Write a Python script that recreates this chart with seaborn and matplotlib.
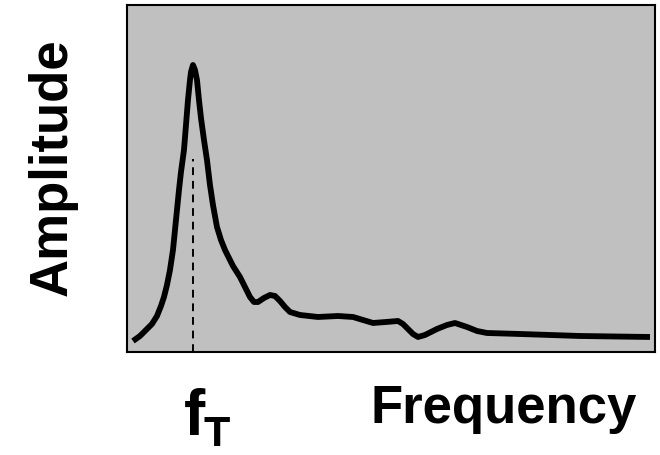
import pandas as pd
import seaborn as sns
import matplotlib.pyplot as plt

# curve: frequency (arbitrary units), amplitude (arbitrary units)
frequency = [6, 13, 18, 25, 30, 34, 37, 40, 43, 46, 48, 50, 52, 54, 57, 59, 61, 63,
             64, 66, 68, 70, 72, 74, 77, 80, 83, 86, 90, 94, 98, 106, 113, 118,
             123, 127, 131, 137, 143, 148, 153, 158, 163, 173, 191, 211, 226, 236,
             246, 259, 271, 276, 281, 286, 291, 298, 310, 320, 328, 334, 340, 350,
             360, 393, 453, 523]
amplitude = [11, 16, 21, 28, 36, 46, 55, 67, 82, 102, 122, 142, 162, 180, 202, 227,
             252, 272, 280, 287, 282, 272, 252, 234, 212, 192, 167, 147, 125, 112,
             102, 86, 75, 65, 55, 50, 50, 54, 57, 56, 51, 45, 40, 37, 35, 36, 35,
             32, 29, 30, 31, 28, 23, 18, 15, 17, 23, 27, 29, 27, 25, 21, 19, 18,
             16, 15]
f_T = 66
f_T_amp = 193

df = pd.DataFrame({"frequency": frequency, "amplitude": amplitude})

sns.set_style("white")
plt.rcParams["font.family"] = ["Liberation Sans", "DejaVu Sans"]

fig, ax = plt.subplots(figsize=(6.6, 4.55), dpi=100)
fig.subplots_adjust(left=0.1924, right=0.9924, bottom=0.2264, top=0.989)
ax.set_facecolor("#c0c0c0")

sns.lineplot(data=df, x="frequency", y="amplitude", ax=ax, color="black",
             linewidth=4.2, solid_capstyle="butt", solid_joinstyle="round")
ax.vlines(f_T, 0, f_T_amp, colors="black", linestyles=(0, (4, 3)), linewidth=1.4)

ax.set_xlim(0, 528)
ax.set_ylim(0, 347)
ax.set_xticks([])
ax.set_yticks([])
ax.set_xlabel("")
ax.set_ylabel("")
for s in ax.spines.values():
    s.set_color("black")
    s.set_linewidth(1.5)

W, H = 660, 455
fig.text(67 / W, 1 - 167.5 / H, "Amplitude", fontsize=38, fontweight="bold",
         color="black", rotation=90, rotation_mode="anchor", ha="center",
         va="baseline")
fig.text(371 / W, 1 - 423 / H, "Frequency", fontsize=38, fontweight="bold",
         color="black", ha="left", va="baseline")
fig.text(184 / W, 1 - 435 / H, "f", fontsize=46, fontweight="bold",
         color="black", ha="left", va="baseline")
fig.text(204 / W, 1 - 446 / H, "T", fontsize=31, fontweight="bold",
         color="black", ha="left", va="baseline")

fig.savefig("out.png", dpi=100)
